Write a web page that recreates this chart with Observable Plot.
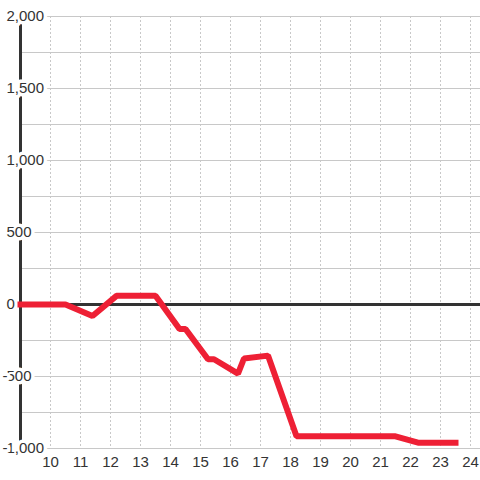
<!DOCTYPE html>
<html>
<head>
<meta charset="utf-8">
<script src="https://cdn.jsdelivr.net/npm/d3@7"></script>
<script src="https://cdn.jsdelivr.net/npm/@observablehq/plot@0.6"></script>
<style>
  html, body { margin: 0; padding: 0; background: #fff; }
</style>
</head>
<body>
<div id="chart"></div>
<script>
// Data
const hours  = [9, 10.5, 11.4, 12.2, 13.5, 14.3, 14.5, 15.25, 15.45, 16.25, 16.45, 17.25, 18.2, 21.5, 22.25, 23.5];
const values = [0, 0, -80, 60, 60, -170, -170, -380, -380, -480, -375, -355, -915, -915, -960, -960];

const xTickValues = [10, 11, 12, 13, 14, 15, 16, 17, 18, 19, 20, 21, 22, 23, 24];
const xTickLabels = ["10", "11", "12", "13", "14", "15", "16", "17", "18", "19", "20", "21", "22", "23", "24"];
const yTickValues = [-1000, -500, 0, 500, 1000, 1500, 2000];
const yTickLabels = ["-1,000", "-500", "0", "500", "1,000", "1,500", "2,000"];
const yGridValues = [-1000, -750, -500, -250, 0, 250, 500, 750, 1000, 1250, 1500, 1750, 2000];

const series = hours.map((h, i) => ({h, v: values[i]}));
const yTicks = yTickValues.map((v, i) => ({
  v,
  neg: yTickLabels[i].startsWith("-"),
  body: yTickLabels[i].replace(/^-/, "")
}));
const xTicks = xTickValues.map((v, i) => ({v, label: xTickLabels[i]}));

const font = "'Liberation Sans', Arial, sans-serif";
const textColor = "#333";
const halo = {stroke: "white", strokeWidth: 7, strokeLinejoin: "round", paintOrder: "stroke"};

const chart = Plot.plot({
  width: 480,
  height: 480,
  marginLeft: 20,
  marginRight: 0,
  marginTop: 16,
  marginBottom: 32,
  x: {domain: [9, 24 + 1/3], axis: null},
  y: {domain: [-1000, 2000], axis: null},
  style: {background: "white", fontFamily: font},
  marks: [
    Plot.ruleY(yGridValues, {stroke: "#c8c8c8", strokeWidth: 1}),
    Plot.ruleX(xTickValues, {stroke: "#c8c8c8", strokeWidth: 1, strokeDasharray: "2,2"}),
    Plot.ruleX([9], {stroke: "#333", strokeWidth: 3}),
    Plot.ruleY([0], {stroke: "#333", strokeWidth: 3}),
    Plot.text(yTicks, {x: () => 9, y: "v", text: "body", dx: -14, textAnchor: "start",
      fill: textColor, fontSize: 15, ...halo}),
    Plot.text(yTicks.filter(d => d.neg), {x: () => 9, y: "v", text: () => "-", dx: -13, textAnchor: "end",
      fill: textColor, fontSize: 15, ...halo}),
    Plot.text(xTicks, {x: "v", y: () => -1000, text: "label", dy: 14, textAnchor: "middle",
      fill: textColor, fontSize: 15}),
    Plot.line(series, {x: "h", y: "v", stroke: "#ee2035", strokeWidth: 6,
      strokeLinecap: "square", strokeLinejoin: "miter", curve: "linear"})
  ]
});
document.getElementById("chart").appendChild(chart);
</script>
</body>
</html>
